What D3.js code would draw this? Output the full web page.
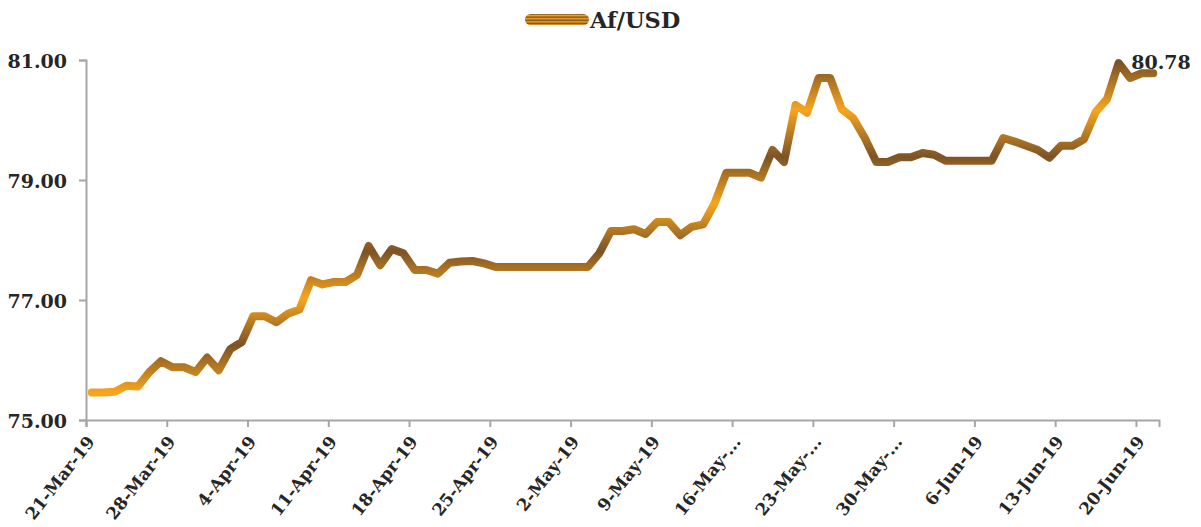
<!DOCTYPE html>
<html>
<head>
<meta charset="utf-8">
<script src="https://d3js.org/d3.v7.min.js"></script>
<style>
  body { margin: 0; background: #ffffff; }
  text { font-family: "DejaVu Serif", serif; font-weight: bold; fill: #262626; }
</style>
</head>
<body>
<div id="chart"></div>
<script>
const width = 1201, height = 527;
const margin = {top: 60, right: 42, bottom: 107, left: 86};

// Af/USD daily rate, one value per day starting 21-Mar-19
const startDate = "2019-03-21";
const rates = [
    75.46, 75.46, 75.47, 75.57, 75.56, 75.80, 75.98, 75.88, 75.88, 75.80,
    76.04, 75.83, 76.18, 76.30, 76.73, 76.73, 76.63, 76.77, 76.84, 77.33,
    77.26, 77.30, 77.30, 77.42, 77.90, 77.58, 77.85, 77.78, 77.50, 77.50,
    77.44, 77.62, 77.64, 77.65, 77.61, 77.55, 77.55, 77.55, 77.55, 77.55,
    77.55, 77.55, 77.55, 77.55, 77.78, 78.15, 78.15, 78.18, 78.10, 78.30,
    78.30, 78.08, 78.22, 78.26, 78.62, 79.12, 79.12, 79.12, 79.04, 79.50,
    79.30, 80.25, 80.12, 80.70, 80.70, 80.18, 80.03, 79.70, 79.30, 79.30,
    79.38, 79.38, 79.45, 79.42, 79.32, 79.32, 79.32, 79.32, 79.32, 79.70,
    79.64, 79.57, 79.50, 79.37, 79.57, 79.57, 79.68, 80.13, 80.35, 80.95,
    80.70, 80.78, 80.78
];
const tickLabels = [
    "21-Mar-19", "28-Mar-19", "4-Apr-19", "11-Apr-19", "18-Apr-19", "25-Apr-19", "2-May-19",
    "9-May-19", "16-May-...", "23-May-...", "30-May-...", "6-Jun-19", "13-Jun-19", "20-Jun-19"
];
const yTicks = [75, 77, 79, 81];
const seriesName = "Af/USD";
const lastLabel = "80.78";

const parse = d3.timeParse("%Y-%m-%d");
const start = parse(startDate);
const dates = rates.map(function(d, i) { return d3.timeDay.offset(start, i); });
const data = rates.map(function(v, i) { return {date: dates[i], value: v}; });
const tickDates = tickLabels.map(function(d, i) { return d3.timeDay.offset(start, 7 * i); });

let svg = d3.select("#chart")
    .append("svg")
    .attr("width", width)
    .attr("height", height);

// gradient along the vertical extent, like the excel line
let defs = svg.append("defs");
let grad = defs.append("linearGradient")
    .attr("id", "lineGrad")
    .attr("x1", 0).attr("y1", 0)
    .attr("x2", 0).attr("y2", 1);
const brown = "#7c5327", orange = "#f8a51d";
for (let i = 0; i <= 7; i++) {
    grad.append("stop")
        .attr("offset", i / 7)
        .attr("stop-color", i % 2 == 0 ? brown : orange);
}

// x axis covers 21-Mar .. end of 21-Jun, points sit mid-day
let x = d3.scaleTime()
    .domain([start, d3.timeDay.offset(start, rates.length)])
    .range([margin.left, width - margin.right]);

let y = d3.scaleLinear()
    .domain([75, 81])
    .range([height - margin.bottom, margin.top]);

let mid = function(d) { return x(d3.timeHour.offset(d.date, 12)); };

// y axis
let yAxis = svg.append("g")
    .attr("transform", `translate(${margin.left}, 0)`)
    .call(d3.axisLeft(y).tickValues(yTicks).tickFormat(d3.format(".2f")).tickSize(7).tickPadding(12));
yAxis.selectAll("text").style("font-size", "19px").attr("dy", "0.38em");

// x axis
let xAxis = svg.append("g")
    .attr("transform", `translate(0, ${height - margin.bottom})`)
    .call(d3.axisBottom(x).tickValues(tickDates).tickFormat(function(d, i) { return tickLabels[i]; }).tickSize(7));
xAxis.selectAll("text")
    .style("font-size", "17px")
    .attr("y", 0)
    .attr("dy", 0)
    .attr("text-anchor", "end")
    .attr("transform", "translate(9, 22) rotate(-52)");

svg.selectAll(".domain, .tick line")
    .attr("stroke", "#a6a6a6")
    .attr("stroke-width", 2);

// the line
let line = d3.line()
    .x(mid)
    .y(function(d) { return y(d.value); });

svg.append("path")
    .datum(data)
    .attr("d", line)
    .attr("fill", "none")
    .attr("stroke", "url(#lineGrad)")
    .attr("stroke-width", 8)
    .attr("stroke-linejoin", "round")
    .attr("stroke-linecap", "round");

// label on the last point
let last = data[data.length - 1];
svg.append("text")
    .attr("x", mid(last) - 22)
    .attr("y", y(last.value) - 4)
    .style("font-size", "19px")
    .text(lastLabel);

// legend
svg.append("rect")
    .attr("x", 525)
    .attr("y", 14)
    .attr("width", 64)
    .attr("height", 11)
    .attr("rx", 5.5)
    .attr("fill", "url(#lineGrad)");

svg.append("text")
    .attr("x", 590)
    .attr("y", 28)
    .style("font-size", "22.5px")
    .text(seriesName);
</script>
</body>
</html>
